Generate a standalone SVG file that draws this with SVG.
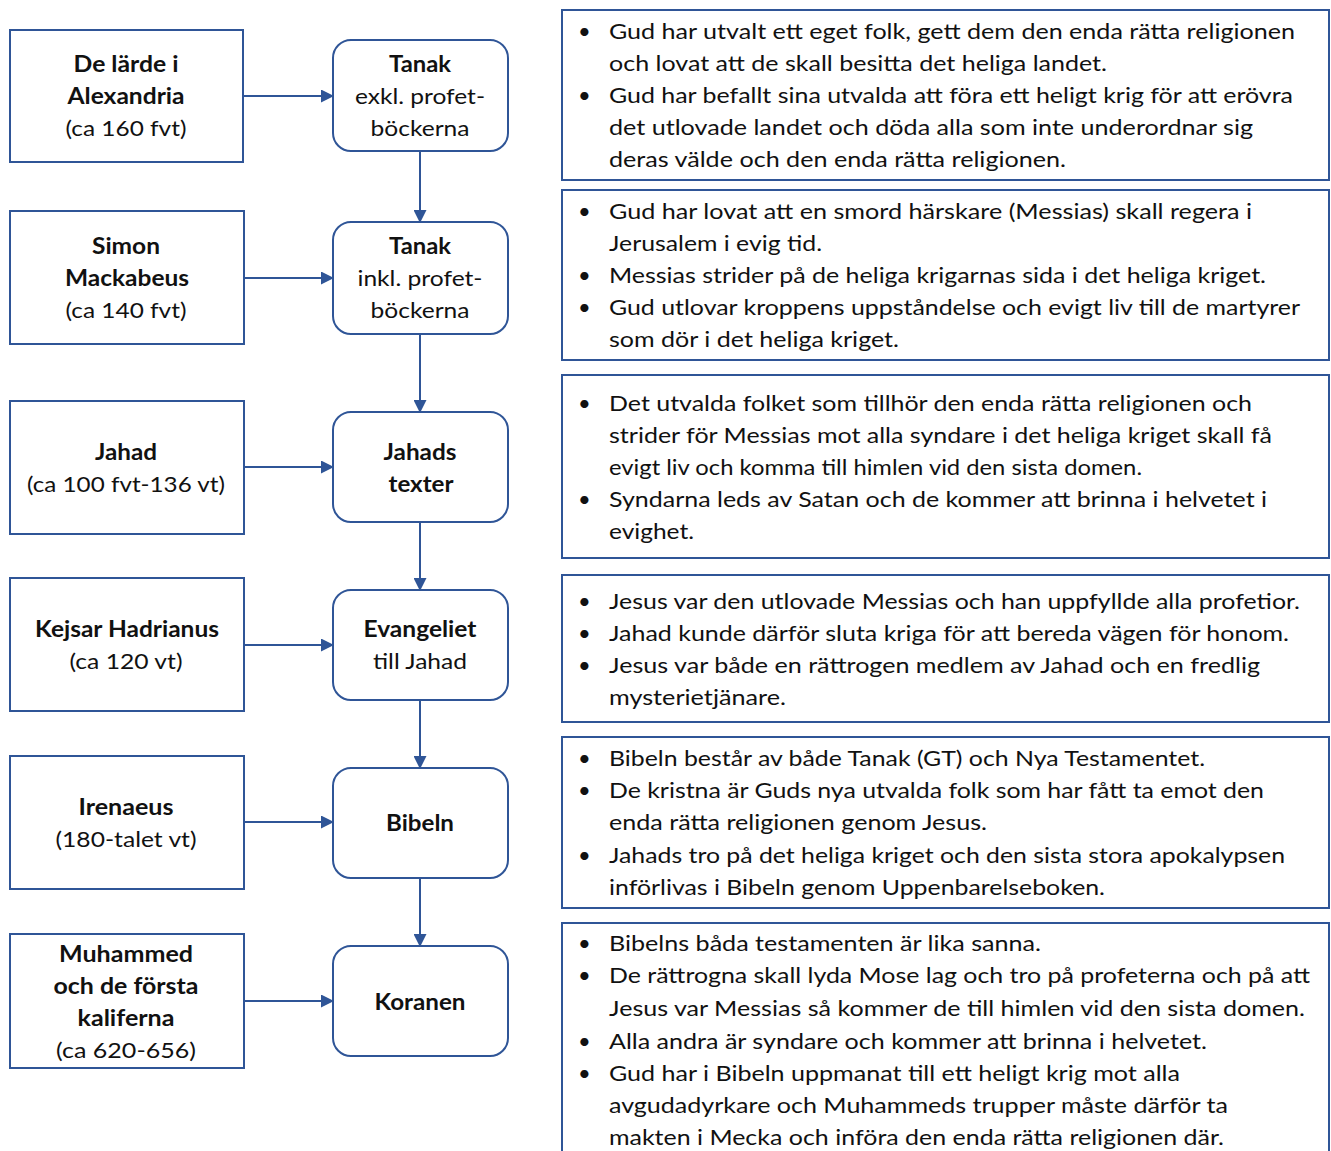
<svg xmlns="http://www.w3.org/2000/svg" width="1331" height="1151" viewBox="0 0 1331 1151">
<style>
.box{fill:#fff;stroke:#2F5597;stroke-width:2}
.t{font-family:Lato,"Open Sans","Liberation Sans",sans-serif;font-size:22px;fill:#111}
.b{font-weight:bold}
.c{text-anchor:middle}
.con{stroke:#2F5597;stroke-width:2;fill:none}
</style>
<defs>
<marker id="ah" markerWidth="13" markerHeight="13" refX="12" refY="6.5" orient="auto" markerUnits="userSpaceOnUse">
<path d="M0,0 L13,6.5 L0,13 Z" fill="#2F5597"/>
</marker>
</defs>
<rect width="1331" height="1151" fill="#fff"/>

<g id="src1"><rect class="box" x="10" y="30" width="233" height="132"/>
<text class="t b c" x="126" y="72" textLength="105" lengthAdjust="spacingAndGlyphs">De lärde i</text>
<text class="t b c" x="126" y="104" textLength="117" lengthAdjust="spacingAndGlyphs">Alexandria</text>
<text class="t c" x="126" y="136" textLength="121" lengthAdjust="spacingAndGlyphs">(ca 160 fvt)</text></g>

<g id="src2"><rect class="box" x="10" y="211" width="234" height="133"/>
<text class="t b c" x="126" y="254" textLength="68" lengthAdjust="spacingAndGlyphs">Simon</text>
<text class="t b c" x="127" y="286" textLength="124" lengthAdjust="spacingAndGlyphs">Mackabeus</text>
<text class="t c" x="126" y="318" textLength="121" lengthAdjust="spacingAndGlyphs">(ca 140 fvt)</text></g>

<g id="src3"><rect class="box" x="10" y="401" width="234" height="133"/>
<text class="t b c" x="126" y="460" textLength="62" lengthAdjust="spacingAndGlyphs">Jahad</text>
<text class="t c" x="126" y="492" textLength="198" lengthAdjust="spacingAndGlyphs">(ca 100 fvt-136 vt)</text></g>

<g id="src4"><rect class="box" x="10" y="578" width="234" height="133"/>
<text class="t b c" x="127" y="637" textLength="184" lengthAdjust="spacingAndGlyphs">Kejsar Hadrianus</text>
<text class="t c" x="126" y="669" textLength="113" lengthAdjust="spacingAndGlyphs">(ca 120 vt)</text></g>

<g id="src5"><rect class="box" x="10" y="756" width="234" height="133"/>
<text class="t b c" x="126" y="815" textLength="95" lengthAdjust="spacingAndGlyphs">Irenaeus</text>
<text class="t c" x="126" y="847" textLength="141" lengthAdjust="spacingAndGlyphs">(180-talet vt)</text></g>

<g id="src6"><rect class="box" x="10" y="934" width="234" height="134"/>
<text class="t b c" x="126" y="962" textLength="134" lengthAdjust="spacingAndGlyphs">Muhammed</text>
<text class="t b c" x="126" y="994" textLength="145" lengthAdjust="spacingAndGlyphs">och de första</text>
<text class="t b c" x="126" y="1026" textLength="97" lengthAdjust="spacingAndGlyphs">kaliferna</text>
<text class="t c" x="126" y="1058" textLength="140" lengthAdjust="spacingAndGlyphs">(ca 620-656)</text></g>

<g id="doc1"><rect class="box" x="333" y="40" width="175" height="111" rx="18"/>
<text class="t b c" x="420" y="72" textLength="62" lengthAdjust="spacingAndGlyphs">Tanak</text>
<text class="t c" x="420" y="104" textLength="130" lengthAdjust="spacingAndGlyphs">exkl. profet-</text>
<text class="t c" x="420" y="136" textLength="99" lengthAdjust="spacingAndGlyphs">böckerna</text></g>

<g id="doc2"><rect class="box" x="333" y="222" width="175" height="112" rx="18"/>
<text class="t b c" x="420" y="254" textLength="62" lengthAdjust="spacingAndGlyphs">Tanak</text>
<text class="t c" x="420" y="286" textLength="125" lengthAdjust="spacingAndGlyphs">inkl. profet-</text>
<text class="t c" x="420" y="318" textLength="99" lengthAdjust="spacingAndGlyphs">böckerna</text></g>

<g id="doc3"><rect class="box" x="333" y="412" width="175" height="110" rx="18"/>
<text class="t b c" x="420" y="460" textLength="73" lengthAdjust="spacingAndGlyphs">Jahads</text>
<text class="t b c" x="421" y="492" textLength="65" lengthAdjust="spacingAndGlyphs">texter</text></g>

<g id="doc4"><rect class="box" x="333" y="590" width="175" height="110" rx="18"/>
<text class="t b c" x="420" y="637" textLength="113" lengthAdjust="spacingAndGlyphs">Evangeliet</text>
<text class="t c" x="420" y="669" textLength="94" lengthAdjust="spacingAndGlyphs">till Jahad</text></g>

<g id="doc5"><rect class="box" x="333" y="768" width="175" height="110" rx="18"/>
<text class="t b c" x="420" y="831" textLength="68" lengthAdjust="spacingAndGlyphs">Bibeln</text></g>

<g id="doc6"><rect class="box" x="333" y="946" width="175" height="110" rx="18"/>
<text class="t b c" x="420" y="1010" textLength="91" lengthAdjust="spacingAndGlyphs">Koranen</text></g>

<g id="connectors">
<line class="con" x1="243" y1="96" x2="333" y2="96" marker-end="url(#ah)"/>
<line class="con" x1="244" y1="278" x2="333" y2="278" marker-end="url(#ah)"/>
<line class="con" x1="244" y1="467" x2="333" y2="467" marker-end="url(#ah)"/>
<line class="con" x1="244" y1="645" x2="333" y2="645" marker-end="url(#ah)"/>
<line class="con" x1="244" y1="822" x2="333" y2="822" marker-end="url(#ah)"/>
<line class="con" x1="244" y1="1001" x2="333" y2="1001" marker-end="url(#ah)"/>
<line class="con" x1="420" y1="151" x2="420" y2="222" marker-end="url(#ah)"/>
<line class="con" x1="420" y1="334" x2="420" y2="412" marker-end="url(#ah)"/>
<line class="con" x1="420" y1="522" x2="420" y2="590" marker-end="url(#ah)"/>
<line class="con" x1="420" y1="700" x2="420" y2="768" marker-end="url(#ah)"/>
<line class="con" x1="420" y1="878" x2="420" y2="946" marker-end="url(#ah)"/>
</g>

<g id="note1"><rect class="box" x="562" y="10" width="767" height="170"/>
<text class="t" x="578" y="39">•</text><text class="t" x="578" y="103">•</text>
<text class="t" x="609" y="39" textLength="686" lengthAdjust="spacingAndGlyphs">Gud har utvalt ett eget folk, gett dem den enda rätta religionen</text>
<text class="t" x="609" y="71" textLength="498" lengthAdjust="spacingAndGlyphs">och lovat att de skall besitta det heliga landet.</text>
<text class="t" x="609" y="103" textLength="684" lengthAdjust="spacingAndGlyphs">Gud har befallt sina utvalda att föra ett heligt krig för att erövra</text>
<text class="t" x="609" y="135" textLength="644" lengthAdjust="spacingAndGlyphs">det utlovade landet och döda alla som inte underordnar sig</text>
<text class="t" x="609" y="167" textLength="457" lengthAdjust="spacingAndGlyphs">deras välde och den enda rätta religionen.</text></g>

<g id="note2"><rect class="box" x="562" y="190" width="767" height="170"/>
<text class="t" x="578" y="219">•</text><text class="t" x="578" y="283">•</text><text class="t" x="578" y="315">•</text>
<text class="t" x="609" y="219" textLength="643" lengthAdjust="spacingAndGlyphs">Gud har lovat att en smord härskare (Messias) skall regera i</text>
<text class="t" x="609" y="251" textLength="213" lengthAdjust="spacingAndGlyphs">Jerusalem i evig tid.</text>
<text class="t" x="609" y="283" textLength="657" lengthAdjust="spacingAndGlyphs">Messias strider på de heliga krigarnas sida i det heliga kriget.</text>
<text class="t" x="609" y="315" textLength="691" lengthAdjust="spacingAndGlyphs">Gud utlovar kroppens uppståndelse och evigt liv till de martyrer</text>
<text class="t" x="609" y="347" textLength="290" lengthAdjust="spacingAndGlyphs">som dör i det heliga kriget.</text></g>

<g id="note3"><rect class="box" x="562" y="375" width="767" height="183"/>
<text class="t" x="578" y="411">•</text><text class="t" x="578" y="507">•</text>
<text class="t" x="609" y="411" textLength="643" lengthAdjust="spacingAndGlyphs">Det utvalda folket som tillhör den enda rätta religionen och</text>
<text class="t" x="609" y="443" textLength="663" lengthAdjust="spacingAndGlyphs">strider för Messias mot alla syndare i det heliga kriget skall få</text>
<text class="t" x="609" y="475" textLength="533" lengthAdjust="spacingAndGlyphs">evigt liv och komma till himlen vid den sista domen.</text>
<text class="t" x="609" y="507" textLength="658" lengthAdjust="spacingAndGlyphs">Syndarna leds av Satan och de kommer att brinna i helvetet i</text>
<text class="t" x="609" y="539" textLength="85" lengthAdjust="spacingAndGlyphs">evighet.</text></g>

<g id="note4"><rect class="box" x="562" y="575" width="767" height="147"/>
<text class="t" x="578" y="609">•</text><text class="t" x="578" y="641">•</text><text class="t" x="578" y="673">•</text>
<text class="t" x="609" y="609" textLength="691" lengthAdjust="spacingAndGlyphs">Jesus var den utlovade Messias och han uppfyllde alla profetior.</text>
<text class="t" x="609" y="641" textLength="680" lengthAdjust="spacingAndGlyphs">Jahad kunde därför sluta kriga för att bereda vägen för honom.</text>
<text class="t" x="609" y="673" textLength="651" lengthAdjust="spacingAndGlyphs">Jesus var både en rättrogen medlem av Jahad och en fredlig</text>
<text class="t" x="609" y="705" textLength="177" lengthAdjust="spacingAndGlyphs">mysterietjänare.</text></g>

<g id="note5"><rect class="box" x="562" y="737" width="767" height="171"/>
<text class="t" x="578" y="766">•</text><text class="t" x="578" y="798">•</text><text class="t" x="578" y="863">•</text>
<text class="t" x="609" y="766" textLength="596" lengthAdjust="spacingAndGlyphs">Bibeln består av både Tanak (GT) och Nya Testamentet.</text>
<text class="t" x="609" y="798" textLength="655" lengthAdjust="spacingAndGlyphs">De kristna är Guds nya utvalda folk som har fått ta emot den</text>
<text class="t" x="609" y="830" textLength="378" lengthAdjust="spacingAndGlyphs">enda rätta religionen genom Jesus.</text>
<text class="t" x="609" y="863" textLength="676" lengthAdjust="spacingAndGlyphs">Jahads tro på det heliga kriget och den sista stora apokalypsen</text>
<text class="t" x="609" y="895" textLength="496" lengthAdjust="spacingAndGlyphs">införlivas i Bibeln genom Uppenbarelseboken.</text></g>

<g id="note6"><rect class="box" x="562" y="923" width="767" height="240"/>
<text class="t" x="578" y="951">•</text><text class="t" x="578" y="983">•</text><text class="t" x="578" y="1049">•</text><text class="t" x="578" y="1081">•</text>
<text class="t" x="609" y="951" textLength="432" lengthAdjust="spacingAndGlyphs">Bibelns båda testamenten är lika sanna.</text>
<text class="t" x="609" y="983" textLength="701" lengthAdjust="spacingAndGlyphs">De rättrogna skall lyda Mose lag och tro på profeterna och på att</text>
<text class="t" x="609" y="1016" textLength="696" lengthAdjust="spacingAndGlyphs">Jesus var Messias så kommer de till himlen vid den sista domen.</text>
<text class="t" x="609" y="1049" textLength="598" lengthAdjust="spacingAndGlyphs">Alla andra är syndare och kommer att brinna i helvetet.</text>
<text class="t" x="609" y="1081" textLength="571" lengthAdjust="spacingAndGlyphs">Gud har i Bibeln uppmanat till ett heligt krig mot alla</text>
<text class="t" x="609" y="1113" textLength="619" lengthAdjust="spacingAndGlyphs">avgudadyrkare och Muhammeds trupper måste därför ta</text>
<text class="t" x="609" y="1145" textLength="615" lengthAdjust="spacingAndGlyphs">makten i Mecka och införa den enda rätta religionen där.</text></g>
</svg>
